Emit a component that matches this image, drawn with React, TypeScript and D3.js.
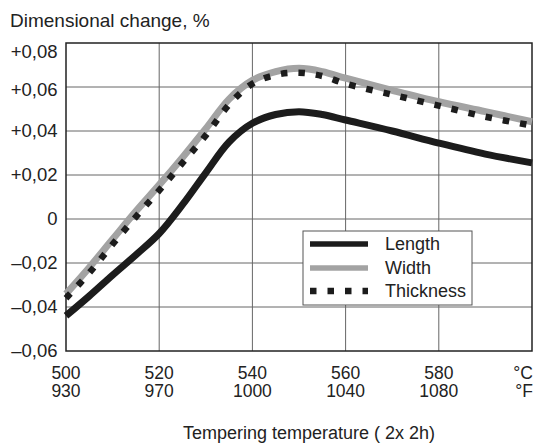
import React from "react";
import * as d3 from "d3";

const temps = [500, 505, 510, 515, 520, 525, 530, 535, 540, 545, 550, 555, 560, 570, 580, 590, 600];
const lengthVals = [-0.044, -0.035, -0.0255, -0.0163, -0.0066, 0.0065, 0.021, 0.035, 0.0435, 0.0475, 0.0488, 0.0475, 0.045, 0.04, 0.0345, 0.0295, 0.0255];
const widthVals = [-0.034, -0.022, -0.0092, 0.0035, 0.0155, 0.028, 0.041, 0.0545, 0.063, 0.067, 0.0685, 0.067, 0.064, 0.0585, 0.0533, 0.0488, 0.0442];
const thicknessVals = [-0.036, -0.0245, -0.0115, 0.001, 0.013, 0.0255, 0.038, 0.052, 0.0615, 0.0655, 0.0665, 0.065, 0.0615, 0.0565, 0.0515, 0.0465, 0.0425];

const yTicks = [0.08, 0.06, 0.04, 0.02, 0, -0.02, -0.04, -0.06];
const yTickLabels = ["+0,08", "+0,06", "+0,04", "+0,02", "0", "\u20130,02", "\u20130,04", "\u20130,06"];
const xTicks = [500, 520, 540, 560, 580];
const xTickLabelsC = ["500", "520", "540", "560", "580"];
const xTickLabelsF = ["930", "970", "1000", "1040", "1080"];
const seriesNames = ["Length", "Width", "Thickness"];

const W = 534;
const H = 443;
const FONT = "'Liberation Sans', Arial, sans-serif";

export default function App() {
  const left = 66, right = 532, top = 43, bottom = 351;
  const x = d3.scaleLinear().domain([500, 600]).range([left, right]);
  const y = d3.scaleLinear().domain([-0.06, 0.08]).range([bottom, top]);

  const line = d3
    .line<number>()
    .x((_, i) => x(temps[i]))
    .y((d) => y(d))
    .curve(d3.curveCatmullRom.alpha(0.5));

  const styles = [
    { stroke: "#1c1c1c", width: 7, dash: undefined as string | undefined, vals: lengthVals },
    { stroke: "#a3a3a3", width: 7, dash: undefined as string | undefined, vals: widthVals },
    { stroke: "#1c1c1c", width: 6.5, dash: "6.5 11", vals: thicknessVals },
  ];

  const gridX = [520, 540, 560, 580];
  const gridY = [0.06, 0.04, 0.02, 0, -0.02, -0.04];

  const legX = 303, legY = 231, legW = 169, legH = 74;
  const legRows = [244, 268, 291];

  return (
    <div style={{ position: "absolute", left: 0, top: 0 }}>
      <svg width={W} height={H} style={{ display: "block", background: "#fff" }} fontFamily={FONT}>
        <rect x={0} y={0} width={W} height={H} fill="#fff" />
        <text x={10} y={27} fontSize={19} fill="#222">
          Dimensional change, %
        </text>
        {gridX.map((t) => (
          <line key={"gx" + t} x1={x(t)} x2={x(t)} y1={top} y2={bottom} stroke="#666" strokeWidth={1} />
        ))}
        {gridY.map((t) => (
          <line key={"gy" + t} x1={left} x2={right} y1={y(t)} y2={y(t)} stroke="#666" strokeWidth={1} />
        ))}
        <rect x={left} y={top} width={right - left} height={bottom - top} fill="none" stroke="#222" strokeWidth={1.5} />
        {yTicks.map((t, i) => (
          <text
            key={"yt" + t}
            x={57.5}
            y={y(t) + (i === 0 ? 9 : i === 1 ? 3 : 0)}
            dy="0.35em"
            textAnchor="end"
            fontSize={18.5}
            fill="#222"
          >
            {yTickLabels[i]}
          </text>
        ))}
        {xTicks.map((t, i) => (
          <g key={"xt" + t}>
            <text x={x(t)} y={378.5} textAnchor="middle" fontSize={17.5} fill="#222">
              {xTickLabelsC[i]}
            </text>
            <text x={x(t)} y={397} textAnchor="middle" fontSize={17.5} fill="#222">
              {xTickLabelsF[i]}
            </text>
          </g>
        ))}
        <text x={533} y={378.5} textAnchor="end" fontSize={17.5} fill="#222">°C</text>
        <text x={533} y={397} textAnchor="end" fontSize={17.5} fill="#222">°F</text>
        <text x={309} y={439} textAnchor="middle" fontSize={18} fill="#222">
          Tempering temperature ( 2x 2h)
        </text>
        <g>
          {styles.map((s, i) => (
            <path
              key={"s" + i}
              d={line(s.vals) || ""}
              fill="none"
              stroke={s.stroke}
              strokeWidth={s.width}
              strokeDasharray={s.dash}
              strokeLinejoin="round"
            />
          ))}
        </g>
        <rect x={legX} y={legY} width={legW} height={legH} fill="#fff" stroke="#555" strokeWidth={1} />
        {styles.map((s, i) => (
          <g key={"lg" + i}>
            <line
              x1={310}
              x2={368}
              y1={legRows[i]}
              y2={legRows[i]}
              stroke={s.stroke}
              strokeWidth={i === 2 ? 6.5 : 5.5}
              strokeDasharray={s.dash}
            />
            <text x={385} y={legRows[i]} dy="0.35em" fontSize={18} fill="#222">
              {seriesNames[i]}
            </text>
          </g>
        ))}
      </svg>
    </div>
  );
}
